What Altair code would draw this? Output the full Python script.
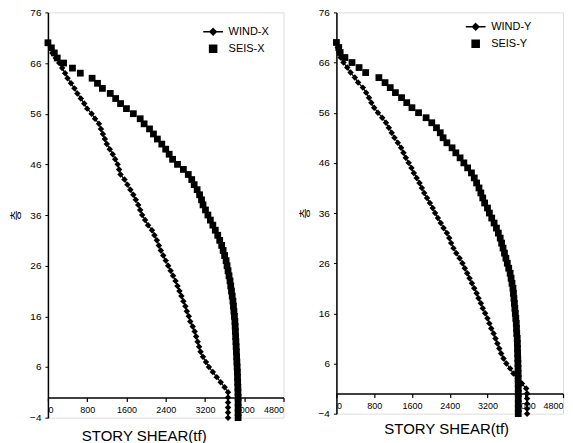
import altair as alt
import pandas as pd

# Stories from basement (-4) up to the roof (70)
stories = list(range(-4, 71))

wind_x = [3670, 3670, 3670, 3670, 3670,
          3670, 3600, 3520, 3440, 3360, 3280, 3220, 3160, 3110, 3080,
          3050, 3020, 2990, 2950, 2900, 2870, 2830, 2800, 2760, 2720,
          2680, 2640, 2600, 2550, 2500, 2450, 2400, 2350, 2300, 2260,
          2220, 2170, 2120, 2040, 1980, 1920, 1880, 1840, 1790, 1740,
          1680, 1620, 1560, 1480, 1450, 1420, 1370, 1320, 1260, 1200,
          1160, 1120, 1080, 1040, 960, 890, 800, 740, 670, 600,
          540, 470, 400, 350, 290, 230, 160, 90, 60, 0]

seis_x = [3875, 3875, 3875, 3875, 3875,
          3872, 3870, 3866, 3863, 3860, 3855, 3850, 3845, 3840, 3835,
          3830, 3825, 3820, 3815, 3810, 3800, 3790, 3780, 3770, 3755,
          3740, 3725, 3710, 3690, 3670, 3650, 3630, 3600, 3570, 3540,
          3500, 3460, 3410, 3360, 3310, 3260, 3210, 3160, 3130, 3090,
          3040, 2980, 2930, 2860, 2760, 2640, 2540, 2470, 2400, 2320,
          2230, 2150, 2070, 1960, 1880, 1740, 1600, 1480, 1380, 1270,
          1110, 1010, 900, 660, 500, 320, 190, 130, 70, 0]

wind_y = [4040, 4040, 4040, 4040, 4040,
          4020, 3930, 3840, 3750, 3680, 3600, 3540, 3490, 3450, 3410,
          3370, 3330, 3280, 3240, 3200, 3150, 3100, 3060, 3010, 2970,
          2920, 2870, 2820, 2770, 2720, 2670, 2610, 2540, 2480, 2430,
          2390, 2340, 2270, 2210, 2150, 2090, 2040, 1980, 1920, 1860,
          1810, 1760, 1700, 1640, 1590, 1530, 1470, 1420, 1370, 1300,
          1230, 1170, 1110, 1050, 970, 880, 800, 740, 690, 630,
          560, 460, 390, 300, 230, 150, 90, 60, 30, 0]

seis_y = [3852, 3852, 3852, 3852, 3852,
          3852, 3851, 3850, 3849, 3847, 3845, 3842, 3839, 3836, 3833,
          3830, 3820, 3815, 3810, 3800, 3790, 3780, 3770, 3760, 3750,
          3740, 3720, 3700, 3680, 3650, 3620, 3590, 3560, 3530, 3500,
          3470, 3430, 3390, 3340, 3290, 3240, 3200, 3140, 3100, 3060,
          3020, 2970, 2920, 2860, 2780, 2700, 2620, 2530, 2450, 2340,
          2260, 2200, 2120, 2020, 1900, 1740, 1600, 1490, 1380, 1250,
          1140, 1030, 900, 620, 480, 330, 180, 80, 50, 0]

x_ticks = [0, 800, 1600, 2400, 3200, 4000, 4800]
y_ticks = [-4, 6, 16, 26, 36, 46, 56, 66, 76]

FONT = "Liberation Sans"
WIND_SYMBOL = "M-2.8,0L2.8,0M0,-0.9L0.9,0L0,0.9L-0.9,0Z"


def panel(wind, seis, wname, sname, w, h, title_x, title_y, leg_x, leg_y):
    df = pd.DataFrame({"story": stories, "wind": wind, "seis": seis})
    xs = alt.Scale(domain=[0, 4800], nice=False, zero=False)
    ys = alt.Scale(domain=[-4, 76], nice=False, zero=False)
    xaxis = alt.Axis(values=x_ticks, format="d", offset=-(4 / 80) * h, grid=False,
                     tickSize=4, labelPadding=4, labelOverlap=False, labelBound=False,
                     domainColor="black", domainWidth=1.5,
                     tickColor="black", tickWidth=1.2, labelFont=FONT, labelFontSize=9,
                     labelColor="black", title="STORY SHEAR(tf)", titleFont=FONT,
                     titleFontSize=15, titleFontWeight="normal", titleColor="black",
                     titleX=title_x, titleY=title_y, titleAlign="center",
                     titleBaseline="middle")
    yaxis = alt.Axis(values=y_ticks, format="d", grid=False, tickSize=3, labelPadding=4,
                     labelOverlap=False,
                     domainColor="black", domainWidth=1.5, tickColor="black",
                     labelFont=FONT, labelFontSize=10, labelColor="black",
                     title="층", titleFont="Noto Sans CJK KR", titleFontSize=11,
                     titleFontWeight="normal", titleColor="black", titleAngle=270,
                     titleX=-31, titleY=h / 2, titleAlign="center", titleBaseline="middle")
    X = lambda f: alt.X(f, scale=xs, axis=xaxis)
    Y = alt.Y("story:Q", scale=ys, axis=yaxis)
    base = alt.Chart(df)
    wline = base.mark_line(color="black", strokeWidth=1.2).encode(
        x=X("wind:Q"), y=Y, order="story:Q")
    wpts = base.mark_point(shape="diamond", filled=True, size=42, color="black",
                           opacity=1).encode(x=X("wind:Q"), y=Y)
    spts = base.mark_square(size=46, color="black", opacity=1).encode(
        x=X("seis:Q"), y=Y)
    leg_df = pd.DataFrame({"series": [wname, sname]})
    leg = alt.Chart(leg_df).mark_point(filled=True, color="black", stroke="black",
                                       strokeWidth=1, opacity=1).encode(
        shape=alt.Shape("series:N",
                        scale=alt.Scale(domain=[wname, sname], range=[WIND_SYMBOL, "square"]),
                        legend=alt.Legend(orient="none", legendX=leg_x, legendY=leg_y,
                                          title=None, labelFont=FONT, labelFontSize=11,
                                          labelColor="black", symbolSize=50, labelOffset=10,
                                          rowPadding=3))
    ).transform_filter("false")
    return alt.layer(wline, wpts, spts, leg).properties(width=w, height=h)


left = panel(wind_x, seis_x, "WIND-X", "SEIS-X", 236, 406, 96, 38, 160, 14)
right = panel(wind_y, seis_y, "WIND-Y", "SEIS-Y", 227, 402, 110, 35, 134, 9)

chart = alt.hconcat(left, right, spacing=53, bounds="flush").resolve_scale(
    shape="independent"
).resolve_legend(shape="independent").properties(
    padding={"top": -2, "left": 2, "right": 0, "bottom": 0}
).configure_axis(labelOverlap=False).configure_view(stroke=None).configure(
    background="white")

chart.save("out.html", embed_options={"renderer": "svg", "actions": False})
